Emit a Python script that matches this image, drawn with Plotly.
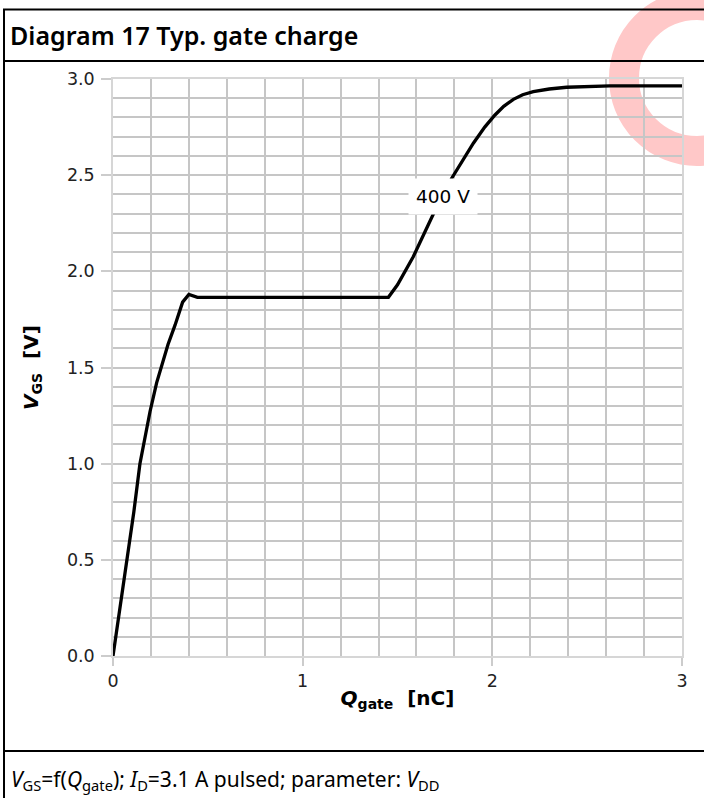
import plotly.graph_objects as go

# ---- data ----
q_gate = [0, 0.04, 0.075, 0.11, 0.142, 0.17, 0.195, 0.23, 0.257, 0.29, 0.327, 0.367,
          0.40, 0.445, 1.452, 1.50, 1.583, 1.689, 1.786, 1.90, 1.96, 2.014, 2.06, 2.111,
          2.16, 2.216, 2.30, 2.392, 2.62, 3.0]
v_gs = [0, 0.27, 0.5, 0.75, 1.0, 1.15, 1.27, 1.42, 1.51, 1.62, 1.72, 1.84,
        1.88, 1.865, 1.865, 1.93, 2.076, 2.298, 2.484, 2.666, 2.75, 2.813, 2.858, 2.894,
        2.918, 2.934, 2.948, 2.957, 2.964, 2.964]
series_label = "400 V"
label_pos = (1.74, 2.39)

W, H = 704, 798
ML, MR, MT, MB = 113, 22, 79, 142
PW = W - ML - MR
PH = H - MT - MB


def px(x):
    return (x - ML) / PW


def py(y):
    return (H - MB - y) / PH


fig = go.Figure()
fig.add_trace(go.Scatter(x=q_gate, y=v_gs, mode="lines",
                         line=dict(color="black", width=3.3),
                         showlegend=False, hoverinfo="skip"))

grid = "#c6c6c6"
tickfont = dict(family="DejaVu Sans", size=17.5, color="#222")
titlefont = dict(family="DejaVu Sans", size=20, color="black")

fig.update_xaxes(range=[0, 3], dtick=1, tick0=0, showgrid=True, gridcolor=grid, gridwidth=1.5,
                 minor=dict(dtick=0.2, showgrid=True, gridcolor=grid, gridwidth=1.5),
                 ticks="outside", ticklen=8, tickcolor="#cccccc", tickwidth=1.5,
                 zeroline=False, showline=True, linecolor="#d6d6d6", linewidth=1.5, mirror=True,
                 tickfont=tickfont,
                 title=dict(text="<b><i>Q</i><sub>gate</sub>  [nC]</b>",
                            font=titlefont, standoff=1))
fig.update_yaxes(range=[0, 3], dtick=0.5, tick0=0, tickformat=".1f", showgrid=True,
                 gridcolor=grid, gridwidth=1.5,
                 minor=dict(dtick=0.1, showgrid=True, gridcolor=grid, gridwidth=1.5),
                 ticks="outside", ticklen=10, tickcolor="#cccccc", tickwidth=1.5,
                 ticklabelstandoff=3,
                 zeroline=False, showline=True, linecolor="#d6d6d6", linewidth=1.5, mirror=True,
                 tickfont=tickfont,
                 title=dict(text="<b><i>V</i><sub>GS</sub>  [V]</b>",
                            font=titlefont, standoff=23))

shapes = [
    # pink watermark arc
    dict(type="circle", xref="paper", yref="paper",
         x0=px(624), x1=px(770), y0=py(151), y1=py(5),
         line=dict(color="#ffc8c8", width=30), layer="below"),
    # frame
    dict(type="rect", xref="paper", yref="paper",
         x0=px(4), x1=px(712), y0=py(810), y1=py(9.5),
         line=dict(color="black", width=2), layer="above"),
    dict(type="line", xref="paper", yref="paper",
         x0=px(4), x1=px(712), y0=py(61), y1=py(61),
         line=dict(color="black", width=2), layer="above"),
    dict(type="line", xref="paper", yref="paper",
         x0=px(4), x1=px(712), y0=py(751), y1=py(751),
         line=dict(color="black", width=2), layer="above"),
]

annotations = [
    dict(x=label_pos[0], y=label_pos[1], xref="x", yref="y", text=series_label,
         showarrow=False, bgcolor="white", borderpad=7,
         font=dict(family="DejaVu Sans", size=18.5, color="black")),
    dict(x=px(8), y=py(35), xref="paper", yref="paper", xanchor="left", yanchor="middle",
         text="Diagram 17 Typ. gate charge", showarrow=False,
         font=dict(family="Noto Sans", size=25, color="black", weight=600)),
    dict(x=px(9), y=py(780), xref="paper", yref="paper", xanchor="left", yanchor="middle",
         text="<i>V</i><sub>GS</sub>=f(<i>Q</i><sub>gate</sub>); <i>I</i><sub>D</sub>=3.1 A pulsed; parameter: <i>V</i><sub>DD</sub>",
         showarrow=False,
         font=dict(family="Noto Sans", size=21, color="black")),
]

fig.update_layout(width=W, height=H, margin=dict(l=ML, r=MR, t=MT, b=MB, autoexpand=False),
                  paper_bgcolor="white", plot_bgcolor="rgba(0,0,0,0)",
                  shapes=shapes, annotations=annotations, showlegend=False)

fig.write_html("out.html", config={"displayModeBar": False},
               post_script="document.body.style.margin='0px';document.body.style.overflow='hidden';")
